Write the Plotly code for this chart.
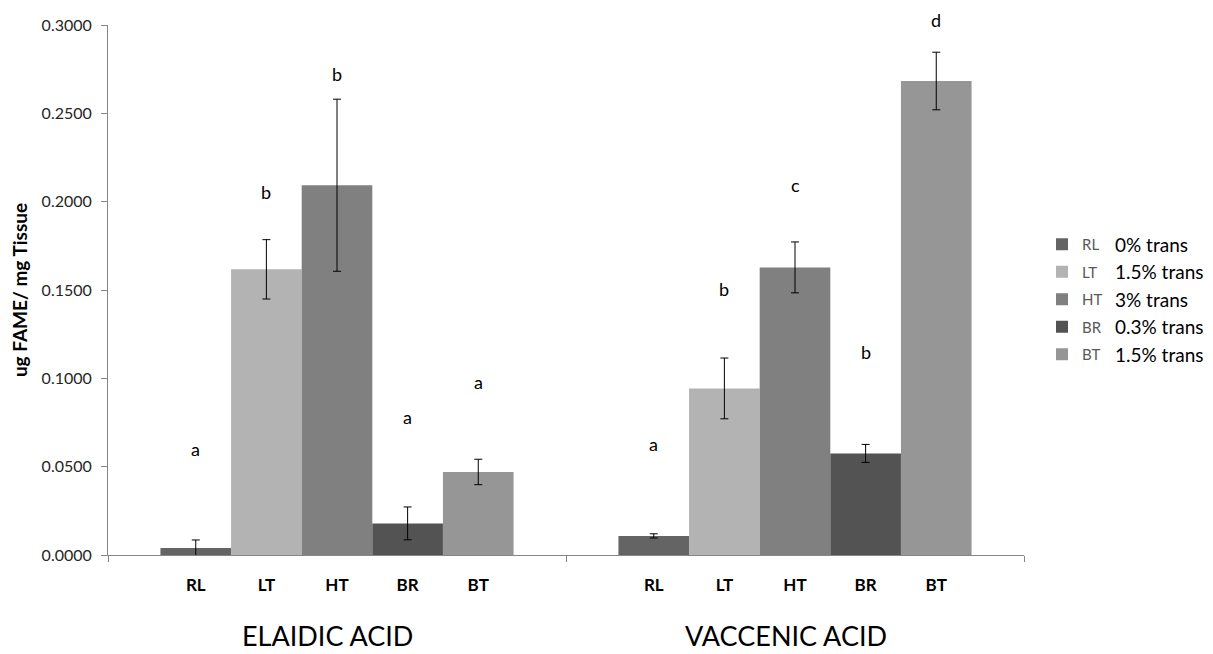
import plotly.graph_objects as go

# ---------------- data ----------------
groups = ["ELAIDIC ACID", "VACCENIC ACID"]
diets = ["RL", "LT", "HT", "BR", "BT"]
diet_desc = ["0% trans", "1.5% trans", "3% trans", "0.3% trans", "1.5% trans"]
colors = ["#646464", "#b3b3b3", "#808080", "#535353", "#969696"]

elaidic_mean = [0.0040, 0.1617, 0.2093, 0.0179, 0.0470]
elaidic_err = [0.0045, 0.0168, 0.0487, 0.0093, 0.0072]
vaccenic_mean = [0.0108, 0.0943, 0.1628, 0.0575, 0.2683]
vaccenic_err = [0.0012, 0.0172, 0.0144, 0.0051, 0.0163]

elaidic_letters = ["a", "b", "b", "a", "a"]
vaccenic_letters = ["a", "b", "c", "b", "d"]
elaidic_letter_y = [0.0598, 0.2057, 0.2723, 0.0781, 0.0979]
vaccenic_letter_y = [0.0628, 0.1506, 0.2094, 0.1149, 0.3028]

y_ticks = [0.0, 0.05, 0.10, 0.15, 0.20, 0.25, 0.30]
Y_MAX = 0.3

# ---------------- layout constants ----------------
W, H = 1213, 654
ML, MR, MT, MB = 108, 189, 25, 99
BAR_W = 0.771 / len(diets)
FONT = "Lato"
AXIS_COL = "#868686"

means = [elaidic_mean, vaccenic_mean]
errs = [elaidic_err, vaccenic_err]
letters = [elaidic_letters, vaccenic_letters]
letter_y = [elaidic_letter_y, vaccenic_letter_y]


def bar_x(g, i):
    return g + (i - (len(diets) - 1) / 2) * BAR_W


fig = go.Figure()
for i, d in enumerate(diets):
    fig.add_trace(go.Bar(
        name=d,
        legendgroup=d,
        x=[bar_x(g, i) for g in range(len(groups))],
        y=[means[g][i] for g in range(len(groups))],
        width=BAR_W,
        marker=dict(color=colors[i], line=dict(width=0)),
        error_y=dict(type="data", array=[errs[g][i] for g in range(len(groups))],
                     color="#000000", thickness=1, width=4),
    ))

annotations = []
for g in range(len(groups)):
    for i in range(len(diets)):
        annotations.append(dict(
            x=bar_x(g, i), y=letter_y[g][i] / Y_MAX, xref="x", yref="paper",
            xanchor="center", yanchor="middle",
            text=letters[g][i], showarrow=False,
            font=dict(family=FONT, size=18, color="#000000")))
    annotations.append(dict(
        x=g - 0.02, y=0, xref="x", yref="paper", yanchor="middle", yshift=-80,
        text=groups[g], showarrow=False,
        font=dict(family=FONT, size=27, color="#000000")))

# legend descriptions
plot_h = H - MT - MB
for i, t in enumerate(diet_desc):
    py = 244 + 27.5 * i
    annotations.append(dict(
        x=(1113 - ML) / (W - ML - MR), y=(H - MB - py) / plot_h,
        xref="paper", yref="paper", xanchor="left", yanchor="middle",
        text=t, showarrow=False,
        font=dict(family=FONT, size=19, color="#000000")))

tick_x = [bar_x(g, i) for g in range(len(groups)) for i in range(len(diets))]
tick_t = [d for g in range(len(groups)) for d in diets]

fig.update_layout(
    width=W, height=H,
    margin=dict(l=ML, r=MR, t=MT, b=MB, pad=0),
    paper_bgcolor="white", plot_bgcolor="white",
    barmode="overlay",
    showlegend=True,
    legend=dict(x=(1042 - ML) / (W - ML - MR), xanchor="left",
                y=(H - MB - 228) / plot_h, yanchor="top",
                font=dict(family=FONT, size=15, color="#595959"),
                tracegroupgap=5, bgcolor="rgba(0,0,0,0)"),
    annotations=annotations,
    xaxis=dict(range=[-0.5, len(groups) - 0.5], showgrid=False, zeroline=False,
               showline=True, linecolor=AXIS_COL, linewidth=1,
               tickmode="array", tickvals=tick_x, ticktext=tick_t, ticks="",
               ticklabelstandoff=15,
               tickfont=dict(family=FONT, size=17, color="#000000", weight="bold"),
               minor=dict(tickmode="array",
                          tickvals=[g - 0.5 for g in range(len(groups) + 1)],
                          ticks="outside", ticklen=6, tickcolor=AXIS_COL, showgrid=False)),
    yaxis=dict(range=[0, Y_MAX], showgrid=False, zeroline=False,
               showline=True, linecolor=AXIS_COL, linewidth=1,
               tickmode="array", tickvals=y_ticks, tickformat=".4f",
               ticks="outside", ticklen=6, tickcolor=AXIS_COL,
               ticklabelstandoff=6,
               tickfont=dict(family=FONT, size=16, color="#262626"),
               title=dict(text="ug FAME/ mg Tissue", standoff=8,
                          font=dict(family=FONT, size=19, color="#000000", weight="bold"))),
)

fig.write_html("out.html", config={"displayModeBar": False},
               post_script="document.body.style.margin='0';")
